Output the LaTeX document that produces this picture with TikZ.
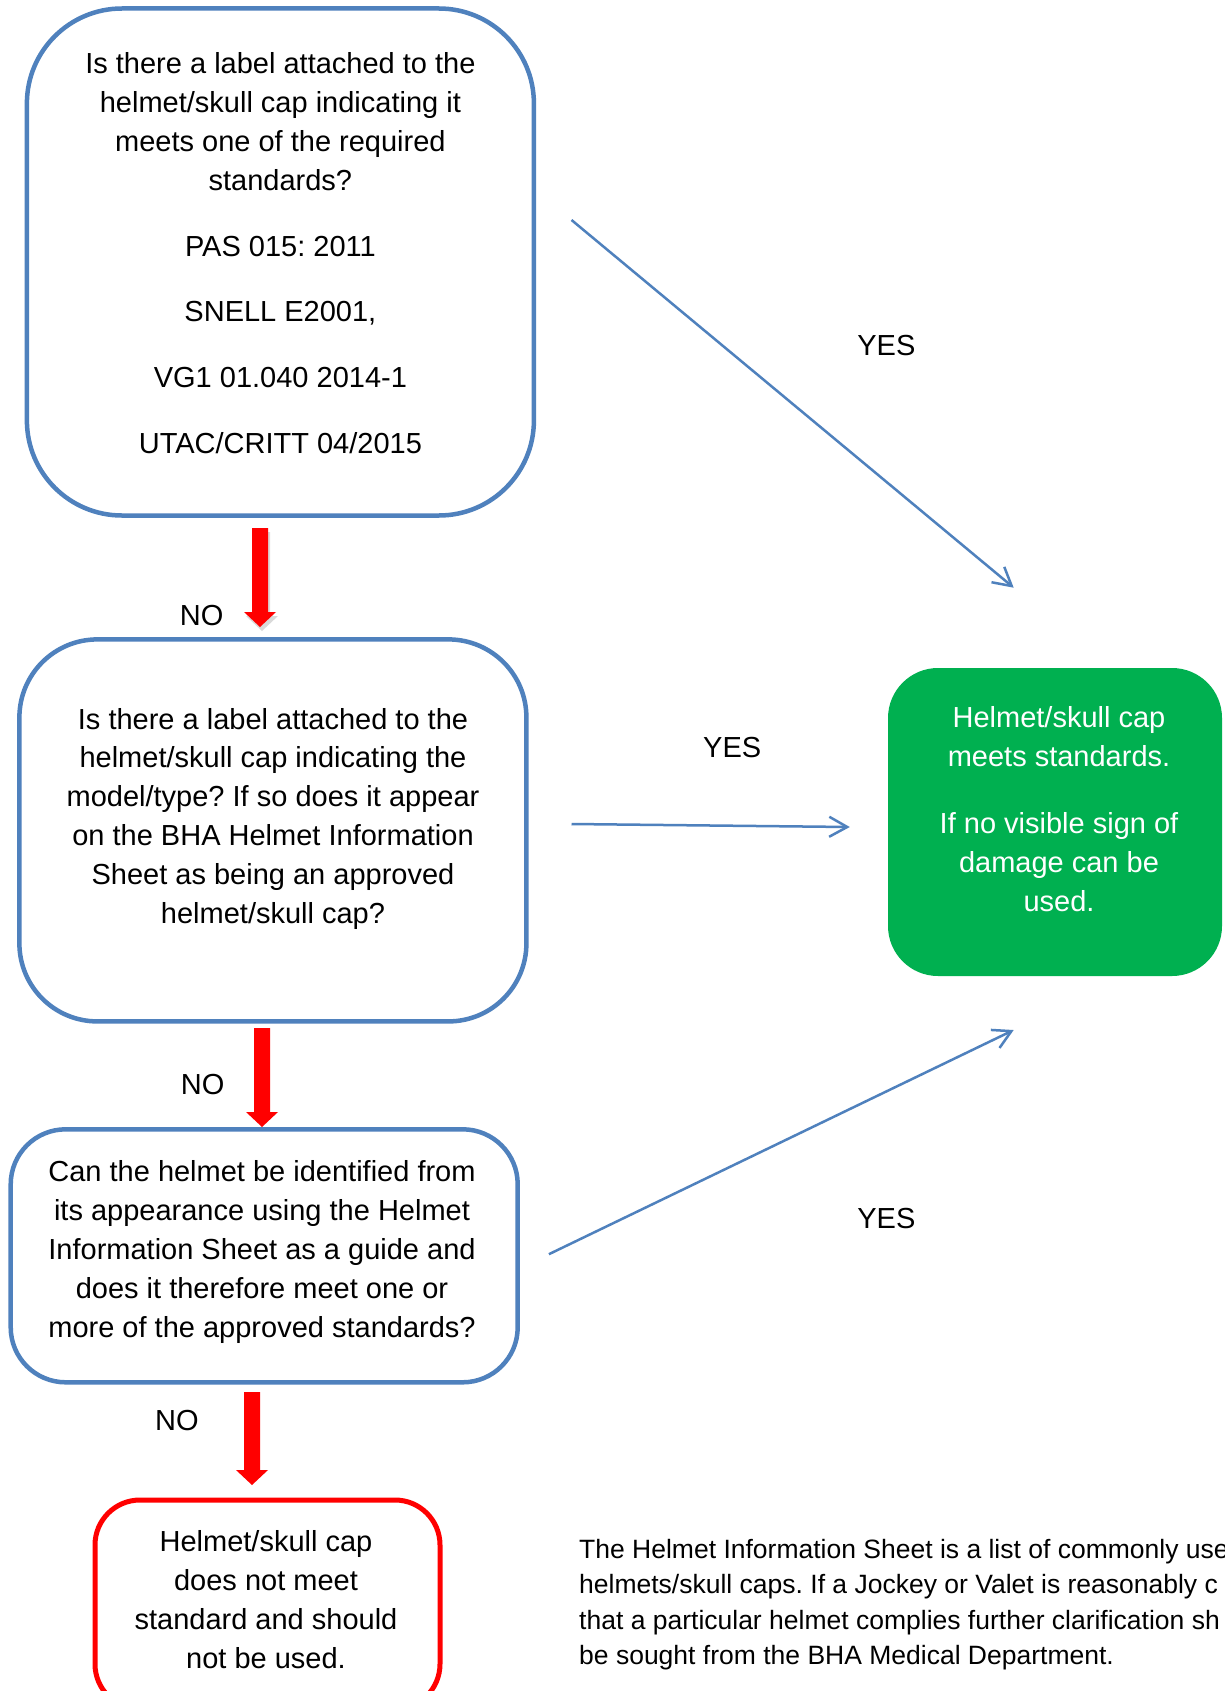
\documentclass[tikz,border=0pt]{standalone}
\usepackage{fontspec}
\setmainfont{Liberation Sans}
\usetikzlibrary{arrows.meta,calc}
\definecolor{bhablue}{HTML}{4F81BD}
\definecolor{bhagreen}{HTML}{00B050}
\definecolor{bhared}{HTML}{FF0000}
\frenchspacing
\newcommand\bigfont{\fontsize{29}{38.8}\selectfont}
\newcommand\notefont{\fontsize{26.5}{35.3}\selectfont}
\newcommand\blockarrow[3][]{\fill[bhared,#1] ($(#2)+(-8,0)$) -- ($(#2)+(8,0)$) -- ($(#3)+(8,-15)$) -- ($(#3)+(16,-15)$) -- (#3) -- ($(#3)+(-16,-15)$) -- ($(#3)+(-8,-15)$) -- cycle;}
\begin{document}
\begin{tikzpicture}[x=1pt,y=-1pt,
  bluebox/.style={draw=bhablue, line width=4.5pt, fill=white, inner sep=0pt},
  boxtext/.style={font=\bigfont, align=center, inner sep=0pt, anchor=north},
  lbl/.style={font=\bigfont, inner sep=0pt},
  yesarrow/.style={draw=bhablue, line width=2.5pt, -{Straight Barb[length=18pt,width=20pt]}}]
\useasboundingbox (0,0) rectangle (1224,1691);
\fill[white] (0,0) rectangle (1224,1691);
\clip (0,0) rectangle (1224,1691);

% boxes
\node[bluebox, minimum width=507pt, minimum height=507pt, rounded corners=95pt] (q1) at (280.4,262) {};
\node[bluebox, minimum width=507pt, minimum height=382pt, rounded corners=78pt] (q2) at (272.9,830.4) {};
\node[bluebox, minimum width=507pt, minimum height=253pt, rounded corners=55pt] (q3) at (264.2,1255.8) {};
\node[draw=bhared, line width=5pt, fill=white, inner sep=0pt, minimum width=345pt, minimum height=209pt, rounded corners=45pt] (fail) at (267.5,1604.5) {};
\node[fill=bhagreen, inner sep=0pt, minimum width=334pt, minimum height=308pt, rounded corners=50pt] (pass) at (1055,822) {};

% texts
\node[boxtext] (q1t) at (280.4,52.6) {Is there a label attached to the\\helmet/skull cap indicating it\\meets one of the required\\standards?\\[27pt]PAS 015: 2011\\[27pt]SNELL E2001,\\[27pt]VG1 01.040 2014-1\\[27pt]UTAC/CRITT 04/2015};
\node[boxtext] (q2t) at (273,707.8) {Is there a label attached to the\\helmet/skull cap indicating the\\model/type? If so does it appear\\on the BHA Helmet Information\\Sheet as being an approved\\helmet/skull cap?};
\node[boxtext] (q3t) at (262,1160.7) {Can the helmet be identified from\\its appearance using the Helmet\\Information Sheet as a guide and\\does it therefore meet one or\\more of the approved standards?};
\node[boxtext] (failt) at (266,1530.7) {Helmet/skull cap\\does not meet\\standard and should\\not be used.};
\node[boxtext, text=white] (passt) at (1059,706.7) {Helmet/skull cap\\meets standards.\\[28pt]If no visible sign of\\damage can be\\used.};

\node[font=\notefont, align=left, inner sep=0pt, anchor=north west] (note) at (579,1539) {The Helmet Information Sheet is a list of commonly use\\helmets/skull caps. If a Jockey or Valet is reasonably c\\that a particular helmet complies further clarification sh\\be sought from the BHA Medical Department.};

% YES connectors
\coordinate (y1s) at (571.5,220);
\coordinate (y1e) at (1013.7,587.7);
\coordinate (y2s) at (571.5,824);
\coordinate (y2e) at (849.8,827);
\coordinate (y3s) at (548.9,1254.2);
\coordinate (y3e) at (1013.7,1030);
\draw[yesarrow] (y1s) -- (y1e);
\draw[yesarrow] (y2s) -- (y2e);
\draw[yesarrow] (y3s) -- (y3e);
\node[lbl] (yes1) at (886.4,345.1) {YES};
\node[lbl] (yes2) at (732.2,747.3) {YES};
\node[lbl] (yes3) at (886.4,1218.6) {YES};

% NO connectors
\coordinate (n1s) at (260,528);
\coordinate (n1e) at (260,627);
\coordinate (n2s) at (262,1028);
\coordinate (n2e) at (262,1127);
\coordinate (n3s) at (252,1392);
\coordinate (n3e) at (252,1485);
\begin{scope}[transform canvas={xshift=2pt,yshift=-4pt}]
\blockarrow[black,opacity=0.15]{n1s}{n1e}
\end{scope}
\blockarrow{n1s}{n1e}
\blockarrow{n2s}{n2e}
\blockarrow{n3s}{n3e}
\node[lbl] (no1) at (201.7,615.5) {NO};
\node[lbl] (no2) at (202.7,1084.5) {NO};
\node[lbl] (no3) at (176.9,1420) {NO};
\end{tikzpicture}
\end{document}
